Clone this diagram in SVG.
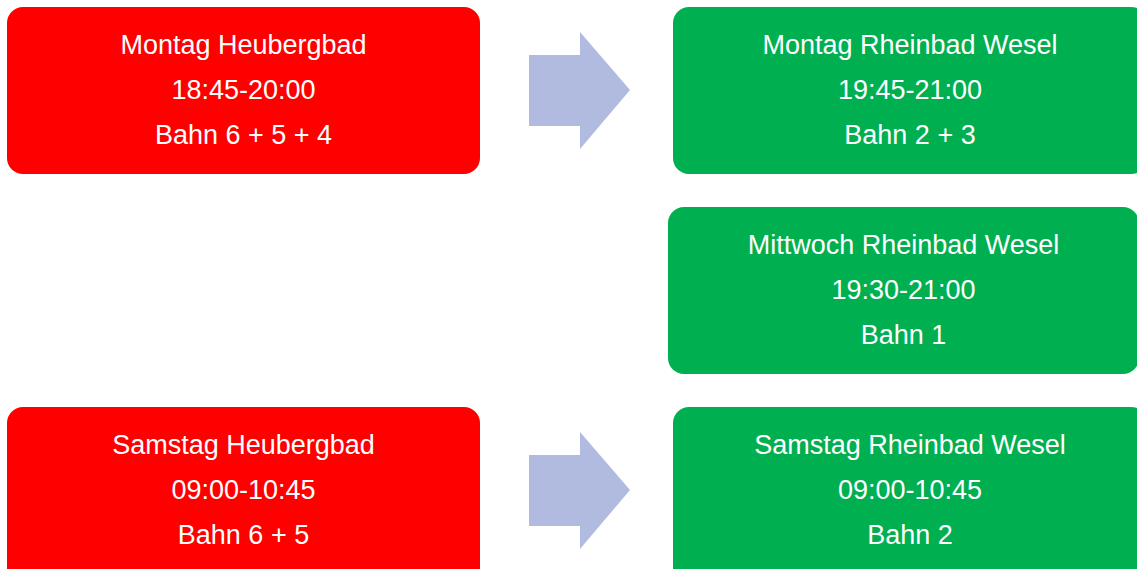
<svg xmlns="http://www.w3.org/2000/svg" width="1137" height="569" viewBox="0 0 1137 569">
<style>
.red{fill:#FF0000}
.green{fill:#00B050}
.arrow{fill:#B0BBDF}
text{font-family:"Liberation Sans",Arial,sans-serif;font-size:27px;fill:#FFFFFF;text-anchor:middle}
</style>
<rect width="1137" height="569" fill="#FFFFFF"/>
<g id="connectors">
<polygon class="arrow" points="529,55 580,55 580,32 630,90 580,149 580,126 529,126"/>
<polygon class="arrow" points="529,455 580,455 580,432 630,490 580,549 580,526 529,526"/>
</g>
<g id="node-montag-heubergbad">
<rect class="red" x="7" y="7" width="473" height="167" rx="16"/>
<text x="243.5" y="54">Montag Heubergbad</text>
<text x="243.5" y="99">18:45-20:00</text>
<text x="243.5" y="144">Bahn 6 + 5 + 4</text>
</g>
<g id="node-montag-rheinbad">
<rect class="green" x="673" y="7" width="474" height="167" rx="16"/>
<text x="910" y="54">Montag Rheinbad Wesel</text>
<text x="910" y="99">19:45-21:00</text>
<text x="910" y="144">Bahn 2 + 3</text>
</g>
<g id="node-mittwoch-rheinbad">
<rect class="green" x="668" y="207" width="471" height="167" rx="16"/>
<text x="903.5" y="254">Mittwoch Rheinbad Wesel</text>
<text x="903.5" y="299">19:30-21:00</text>
<text x="903.5" y="344">Bahn 1</text>
</g>
<g id="node-samstag-heubergbad">
<rect class="red" x="7" y="407" width="473" height="180" rx="16"/>
<text x="243.5" y="454">Samstag Heubergbad</text>
<text x="243.5" y="499">09:00-10:45</text>
<text x="243.5" y="544">Bahn 6 + 5</text>
</g>
<g id="node-samstag-rheinbad">
<rect class="green" x="673" y="407" width="474" height="180" rx="16"/>
<text x="910" y="454">Samstag Rheinbad Wesel</text>
<text x="910" y="499">09:00-10:45</text>
<text x="910" y="544">Bahn 2</text>
</g>
</svg>
